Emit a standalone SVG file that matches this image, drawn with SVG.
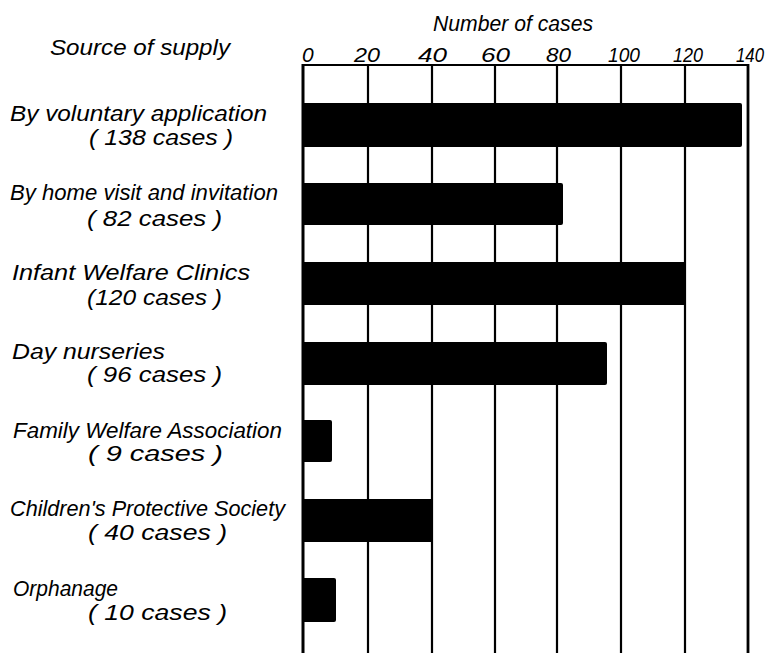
<svg xmlns="http://www.w3.org/2000/svg" width="770" height="653" viewBox="0 0 770 653">
<style>
text{font-family:"Liberation Sans","DejaVu Sans",sans-serif;font-style:italic;fill:#000}
.lbl{font-size:22px}
.cnt{font-size:22px}
.ax{font-size:21px}
.ttl{font-size:22px}
.grid line{stroke:#000;stroke-width:2.2}
.bar{fill:#000}
</style>
<rect width="770" height="653" fill="#fff"/>
<g id="grid" class="grid">
<line x1="303" y1="65" x2="748" y2="65" stroke-width="2.8"/>
<line x1="303" y1="64" x2="303" y2="653" style="stroke-width:3"/>
<line x1="368" y1="65" x2="368" y2="653"/>
<line x1="432" y1="65" x2="432" y2="653"/>
<line x1="495" y1="65" x2="495" y2="653"/>
<line x1="557" y1="65" x2="557" y2="653"/>
<line x1="621" y1="65" x2="621" y2="653"/>
<line x1="685" y1="65" x2="685" y2="653"/>
<line x1="748" y1="64" x2="748" y2="653" style="stroke-width:2.8"/>
</g>
<g id="axis">
<text class="ttl" x="433" y="31" textLength="160" lengthAdjust="spacingAndGlyphs">Number of cases</text>
<text class="ax" x="302" y="62">0</text>
<text class="ax" x="354" y="62" textLength="26" lengthAdjust="spacingAndGlyphs">20</text>
<text class="ax" x="418" y="62" textLength="29" lengthAdjust="spacingAndGlyphs">40</text>
<text class="ax" x="481" y="62" textLength="29" lengthAdjust="spacingAndGlyphs">60</text>
<text class="ax" x="546" y="62" textLength="25" lengthAdjust="spacingAndGlyphs">80</text>
<text class="ax" x="608" y="62" textLength="32" lengthAdjust="spacingAndGlyphs">100</text>
<text class="ax" x="673" y="62" textLength="30" lengthAdjust="spacingAndGlyphs">120</text>
<text class="ax" x="736" y="62" textLength="28" lengthAdjust="spacingAndGlyphs">140</text>
<text class="ttl" x="50" y="55" textLength="180" lengthAdjust="spacingAndGlyphs">Source of supply</text>
</g>
<g id="row1">
<text class="lbl" x="10" y="121" textLength="257" lengthAdjust="spacingAndGlyphs">By voluntary application</text>
<text class="cnt" x="89" y="145" textLength="144" lengthAdjust="spacingAndGlyphs">( 138 cases )</text>
<rect class="bar" x="302" y="103" width="440" height="44" rx="2"/>
</g>
<g id="row2">
<text class="lbl" x="10" y="200" textLength="268" lengthAdjust="spacingAndGlyphs">By home visit and invitation</text>
<text class="cnt" x="87" y="226" textLength="135" lengthAdjust="spacingAndGlyphs">(  82 cases )</text>
<rect class="bar" x="302" y="183" width="261" height="42" rx="2"/>
</g>
<g id="row3">
<text class="lbl" x="12" y="280" textLength="238" lengthAdjust="spacingAndGlyphs">Infant  Welfare Clinics</text>
<text class="cnt" x="87" y="305" textLength="135" lengthAdjust="spacingAndGlyphs">(120 cases )</text>
<rect class="bar" x="302" y="262" width="383" height="43" rx="1"/>
</g>
<g id="row4">
<text class="lbl" x="12" y="359" textLength="153" lengthAdjust="spacingAndGlyphs">Day  nurseries</text>
<text class="cnt" x="87" y="382" textLength="135" lengthAdjust="spacingAndGlyphs">( 96 cases  )</text>
<rect class="bar" x="302" y="342" width="305" height="43" rx="2"/>
</g>
<g id="row5">
<text class="lbl" x="13" y="438" textLength="269" lengthAdjust="spacingAndGlyphs">Family  Welfare Association</text>
<text class="cnt" x="88" y="461" textLength="135" lengthAdjust="spacingAndGlyphs">(   9 cases  )</text>
<rect class="bar" x="302" y="420" width="30" height="42" rx="2"/>
</g>
<g id="row6">
<text class="lbl" x="10" y="516" textLength="275" lengthAdjust="spacingAndGlyphs">Children's Protective Society</text>
<text class="cnt" x="88" y="540" textLength="139" lengthAdjust="spacingAndGlyphs">( 40 cases  )</text>
<rect class="bar" x="302" y="499" width="131" height="43" rx="1"/>
</g>
<g id="row7">
<text class="lbl" x="13" y="596" textLength="105" lengthAdjust="spacingAndGlyphs">Orphanage</text>
<text class="cnt" x="88" y="620" textLength="139" lengthAdjust="spacingAndGlyphs">(  10 cases  )</text>
<rect class="bar" x="302" y="578" width="34" height="44" rx="2"/>
</g>
<g id="connectors"></g>
</svg>
